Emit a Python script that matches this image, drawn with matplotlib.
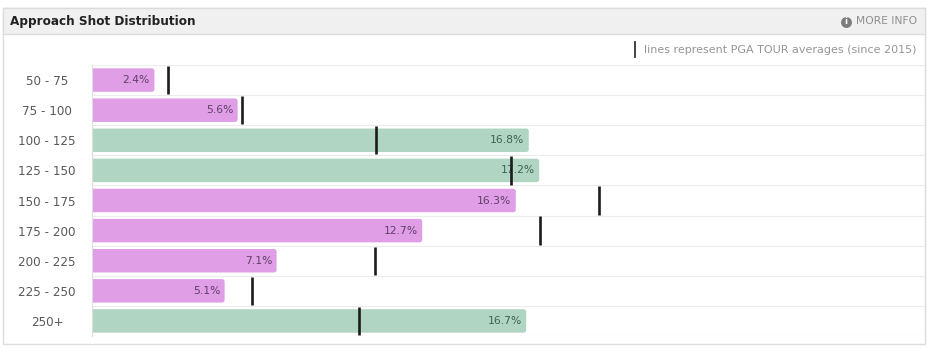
import matplotlib
matplotlib.use("Agg")
import matplotlib.pyplot as plt
from matplotlib.patches import FancyBboxPatch, Rectangle

W, H = 931, 351

title = "Approach Shot Distribution"
more_info = "MORE INFO"
note = "lines represent PGA TOUR averages (since 2015)"
categories = ["50 - 75", "75 - 100", "100 - 125", "125 - 150", "150 - 175",
              "175 - 200", "200 - 225", "225 - 250", "250+"]
player_pct = [2.4, 5.6, 16.8, 17.2, 16.3, 12.7, 7.1, 5.1, 16.7]
tour_avg = [2.92, 5.77, 10.92, 16.1, 19.5, 17.23, 10.88, 6.15, 10.27]
above_avg = [False, False, True, True, False, False, False, False, True]

PINK = "#e09ee6"
GREEN = "#b1d5c3"
GREY = "#595959"


def px(size):
    # font size in pixels to points at dpi 100
    return size * 0.72


plt.rcParams["font.family"] = ["DejaVu Sans"]
fig = plt.figure(figsize=(W / 100, H / 100), dpi=100, facecolor="white")

# panel chrome drawn in pixel coordinates
bg = fig.add_axes([0, 0, 1, 1], zorder=0)
bg.set_xlim(0, W)
bg.set_ylim(H, 0)
bg.axis("off")
bg.add_patch(Rectangle((3, 8), 922, 336, facecolor="white", edgecolor="#dcdcdc", lw=1))
bg.add_patch(Rectangle((3, 8), 922, 26, facecolor="#f0f0f0", edgecolor="#dcdcdc", lw=1))
bg.text(10, 21.5, title, fontsize=px(13.4), fontweight="bold", fontstretch="condensed",
        color="#222222", va="center")
bg.text(917, 21.5, more_info, fontsize=px(10.7), color="#8f8f8f", va="center", ha="right")
bg.scatter([845.5], [21.5], s=62, color="#7d7d7d", linewidths=0)
bg.text(845.5, 21.5, "i", fontsize=px(8.5), fontweight="bold", color="white", va="center", ha="center")
bg.plot([635, 635], [42, 57], color="#333333", lw=1.3)
bg.text(917, 50, note, fontsize=px(11.1), color="#959595", va="center", ha="right")

# chart area: 26 px per percent, rows about 30 px tall
left, right, top, bottom = 92, 925, 65, 336
ax = fig.add_axes([left / W, 1 - bottom / H, (right - left) / W, (bottom - top) / H], zorder=1)
ax.patch.set_alpha(0)
ax.set_xlim(0, (right - left) / 26.0)
ax.set_ylim(len(categories) - 0.5, -0.5)

for i in range(len(categories) + 1):
    ax.axhline(i - 0.5, color="#ececec", lw=0.8, zorder=1)

row_px = (bottom - top) / len(categories)
for i, (cat, val, avg, up) in enumerate(zip(categories, player_pct, tour_avg, above_avg)):
    # start left of the axis so only the right corners look rounded
    bar = FancyBboxPatch((-0.2, i - 0.39), val + 0.2, 0.78,
                         boxstyle="round,pad=0,rounding_size=0.1",
                         mutation_aspect=26.0 / row_px,
                         facecolor=GREEN if up else PINK, edgecolor="none", zorder=2)
    ax.add_patch(bar)
    ax.annotate(f"{val}%", (val, i), xytext=(-3.2, 0), textcoords="offset points",
                ha="right", va="center", fontsize=px(10.7),
                color="#3f5f52" if up else "#5f3f66", zorder=3)
    ax.vlines(avg, i - 0.47, i + 0.47, color="#1c1c1c", lw=1.9, zorder=4)

ax.set_yticks(range(len(categories)))
ax.set_yticklabels(categories, ha="center", fontsize=px(12), color=GREY)
ax.tick_params(axis="y", length=0, pad=32.4)
ax.tick_params(axis="x", bottom=False, labelbottom=False)
for name in ["top", "right", "bottom"]:
    ax.spines[name].set_visible(False)
ax.spines["left"].set_color("#dddddd")
ax.spines["left"].set_linewidth(0.8)

fig.savefig("out.png", dpi=100)
plt.close(fig)
